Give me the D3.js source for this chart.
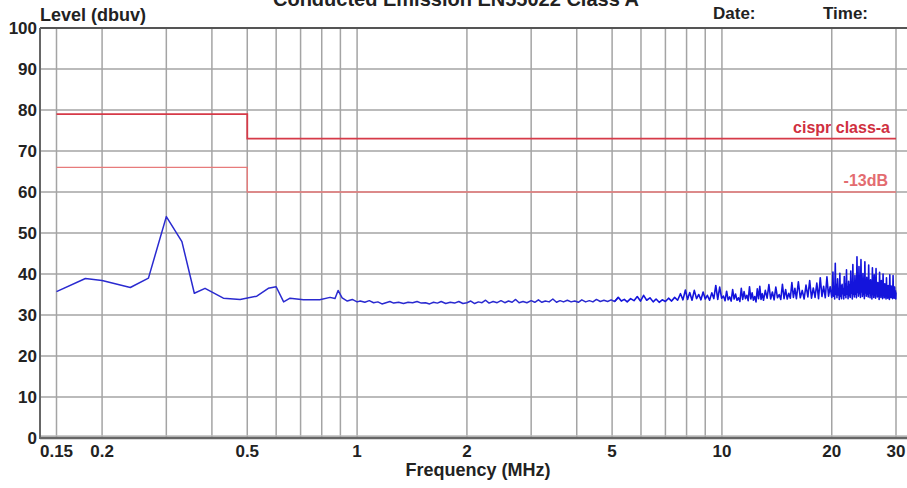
<!DOCTYPE html>
<html>
<head>
<meta charset="utf-8">
<script src="https://cdn.jsdelivr.net/npm/d3@7"></script>
<style>
html,body{margin:0;padding:0;background:#fff;}
svg{display:block;}
text{font-family:"Liberation Sans",Arial,sans-serif;font-weight:bold;fill:#222;}
</style>
</head>
<body>
<svg id="chart" width="907" height="488"></svg>
<script>
// ---------- data ----------
const title = "Conducted Emission EN55022 Class A";
const yTicks = [0,10,20,30,40,50,60,70,80,90,100];
const xGrid = [0.15,0.2,0.3,0.4,0.5,0.6,0.7,0.8,0.9,1,2,3,4,5,6,7,8,9,10,20,30];
const xTickLabels = [0.15,0.2,0.5,1,2,5,10,20,30];
const limitClassA = [[0.15,79],[0.5,79],[0.5,73],[30,73]];
const limitMinus13 = [[0.15,66],[0.5,66],[0.5,60],[30,60]];
// measured trace [MHz, dBuV]
const traceLow = [
[0.15,35.7],[0.18,38.9],[0.2,38.4],[0.239,36.7],[0.268,39.0],[0.30,54.0],[0.331,47.9],[0.358,35.3],
[0.383,36.5],[0.43,34.1],[0.478,33.8],[0.531,34.6],[0.571,36.5],[0.60,36.9],[0.629,33.2],[0.655,34.1],
[0.713,33.7],[0.79,33.7],[0.843,34.3],[0.87,34.0],[0.887,36.0],[0.91,34.2],[0.94,33.4],[0.97,33.8],[1.0,33.2]
];
const traceMid = [
[1.02,33.4],[1.05,33.1],[1.08,33.5],[1.11,33.0],[1.14,33.2],[1.17,32.7],[1.2,33.0],[1.23,33.3],[1.26,32.9],
[1.3,33.1],[1.34,32.8],[1.38,33.1],[1.42,33.0],[1.46,33.3],[1.5,32.9],[1.54,33.0],[1.58,32.7],[1.62,33.1],
[1.66,32.9],[1.7,33.3],[1.75,32.8],[1.8,33.1],[1.85,32.9],[1.9,33.3],[1.95,32.8],[2.0,33.0],[2.05,33.4],
[2.1,32.8],[2.15,33.2],[2.2,33.0],[2.25,33.6],[2.3,32.9],[2.36,33.3],[2.42,33.0],[2.48,33.5],[2.54,33.0],
[2.6,33.4],[2.66,33.1],[2.72,33.8],[2.78,33.0],[2.85,33.3],[2.92,33.0],[3.0,33.5],[3.07,33.1],[3.14,33.7],
[3.21,33.1],[3.28,33.4],[3.36,33.2],[3.44,33.9],[3.52,33.1],[3.6,33.5],[3.68,33.2],[3.77,33.6],[3.86,33.2],
[3.95,33.4],[4.04,33.1],[4.13,33.7],[4.23,33.2],[4.33,33.5],[4.43,33.2],[4.53,33.8],[4.64,33.3],[4.75,33.6],
[4.86,33.3],[4.97,33.7],[5.08,33.3]
];
const traceHigh = [
[5.2,34.3],[5.3,33.4],[5.4,33.8],[5.5,33.2],[5.62,34.0],[5.74,33.5],[5.86,34.5],[5.98,33.4],[6.1,34.8],
[6.22,33.6],[6.35,34.2],[6.48,33.2],[6.6,33.9],[6.73,33.1],[6.86,33.7],[7.0,33.3],[7.14,34.1],[7.28,33.4],
[7.42,34.3],[7.56,33.6],[7.7,35.2],[7.82,33.7],[7.94,36.1],[8.05,33.8],[8.16,35.5],[8.28,33.6],[8.4,36.0],
[8.52,34.0],[8.64,35.0],[8.76,33.7],[8.88,35.6],[9.0,33.9],[9.12,34.8],[9.25,33.6],[9.38,35.4],[9.5,34.0],
[9.62,37.2],[9.74,33.8],[9.86,36.8],[9.98,34.1],
[10.1,34.6],[10.2,33.5],[10.3,35.8],[10.4,33.7],[10.5,34.4],[10.6,33.4],[10.7,36.2],[10.8,33.9],[10.9,35.1],
[11.0,33.6],[11.1,34.2],[11.2,33.3],[11.3,36.5],[11.4,33.8],[11.5,35.7],[11.6,34.0],[11.7,34.8],[11.8,33.5],
[11.9,36.9],[12.0,33.9],[12.1,35.4],[12.2,33.6],[12.3,34.5],[12.4,33.2],[12.5,36.4],[12.6,34.0],[12.7,37.0],
[12.8,33.8],[12.9,35.2],[13.0,33.6],
[13.15,36.0],[13.3,34.1],[13.45,37.4],[13.6,33.9],[13.75,35.6],[13.9,33.7],[14.05,36.8],[14.2,34.2],
[14.35,35.0],[14.5,33.8],[14.65,37.5],[14.8,34.0],[14.95,36.2],[15.1,33.9],[15.25,35.3],[15.4,34.1],
[15.55,37.9],[15.7,34.3],[15.85,36.5],[16.0,34.0],
[16.2,38.1],[16.4,34.2],[16.6,36.0],[16.8,33.9],[17.0,37.3],[17.2,34.4],[17.4,38.4],[17.6,34.1],[17.8,36.6],
[18.0,34.3],[18.2,37.8],[18.4,34.0],[18.6,39.1],[18.8,34.5],[19.0,37.0],[19.2,34.2],[19.4,39.3],[19.6,34.6],
[19.8,36.9],[20.0,34.3]
];
const traceTop = [
[20.08,36.2],[20.15,40.5],[20.22,34.6],[20.3,36.9],[20.37,33.9],[20.45,42.6],[20.52,35.0],[20.6,37.4],
[20.67,34.2],[20.75,38.8],[20.82,34.9],[20.9,36.3],[20.97,33.8],[21.05,40.2],[21.12,34.5],[21.2,37.1],
[21.27,34.0],[21.35,37.5],[21.42,35.2],[21.5,36.4],[21.57,33.9],[21.65,39.4],[21.72,34.8],[21.8,37.6],
[21.87,34.2],[21.95,41.0],[22.02,35.1],[22.1,36.7],[22.17,34.0],[22.25,38.2],[22.32,34.7],[22.4,37.3],
[22.47,34.3],[22.55,40.7],[22.62,35.3],[22.7,36.5],[22.77,33.9],[22.85,42.3],[22.92,35.0],[23.0,38.0],
[23.07,34.4],[23.15,39.6],[23.22,35.1],[23.3,37.2],[23.37,34.2],[23.45,44.2],[23.52,35.5],[23.6,38.4],
[23.67,34.6],[23.75,41.8],[23.82,35.2],[23.9,37.5],[23.97,34.3],[24.05,43.5],[24.12,35.6],[24.2,38.1],
[24.27,34.5],[24.35,40.1],[24.42,35.0],[24.5,37.0],[24.57,34.0],[24.65,43.0],[24.72,35.4],[24.8,38.3],
[24.87,34.6],[24.95,39.2],[25.02,35.1],[25.1,37.3],[25.17,34.4],[25.25,42.2],[25.32,35.3],[25.4,37.8],
[25.47,34.2],[25.55,38.6],[25.62,34.9],[25.7,36.6],[25.77,33.9],[25.85,41.5],[25.92,35.0],[26.0,37.7],
[26.07,34.3],[26.15,39.8],[26.22,34.8],[26.3,36.9],[26.37,34.1],[26.45,41.3],[26.52,35.2],[26.6,37.5],
[26.67,34.4],[26.75,37.9],[26.82,34.6],[26.9,36.4],[26.97,33.8],[27.05,40.4],[27.12,35.0],[27.2,37.3],
[27.27,34.3],[27.35,38.4],[27.42,34.9],[27.5,36.6],[27.57,34.0],[27.65,40.0],[27.72,35.1],[27.8,37.4],
[27.87,34.2],[27.95,37.6],[28.02,34.7],[28.1,36.2],[28.17,33.9],[28.25,39.1],[28.32,34.8],[28.4,37.0],
[28.47,34.1],[28.55,37.2],[28.62,34.5],[28.7,36.1],[28.77,33.8],[28.85,39.8],[28.92,34.9],[29.0,37.1],
[29.07,34.2],[29.15,37.0],[29.22,34.6],[29.3,36.3],[29.37,34.0],[29.45,39.6],[29.52,34.8],[29.6,36.9],
[29.67,34.1],[29.75,36.8],[29.82,34.5],[29.9,35.9],[29.96,33.9],[30.0,35.5]
];

// ---------- chart ----------
const svg = d3.select("#chart");
const x = d3.scaleLog().domain([0.15, 30]).range([56.5, 896]);
const y = d3.scaleLinear().domain([0, 100]).range([438, 28]);
const left = 40, right = 907;

// horizontal grid
svg.append("g").selectAll("line").data(yTicks.filter(d => d > 0 && d < 100)).join("line")
  .attr("x1", left).attr("x2", right)
  .attr("y1", d => y(d)).attr("y2", d => y(d))
  .attr("stroke", "#a4a4a4").attr("stroke-width", 1.5);

// vertical grid
svg.append("g").selectAll("line").data(xGrid).join("line")
  .attr("x1", d => x(d)).attr("x2", d => x(d))
  .attr("y1", y(100)).attr("y2", y(0))
  .attr("stroke", "#a4a4a4").attr("stroke-width", 1.5);

// frame
svg.append("line").attr("x1", left).attr("x2", right).attr("y1", y(100)).attr("y2", y(100))
  .attr("stroke", "#555").attr("stroke-width", 2);
svg.append("line").attr("x1", left).attr("x2", right).attr("y1", y(0) - 2).attr("y2", y(0) - 2)
  .attr("stroke", "#bbb").attr("stroke-width", 1.5);
svg.append("line").attr("x1", left).attr("x2", right).attr("y1", y(0)).attr("y2", y(0))
  .attr("stroke", "#666").attr("stroke-width", 2.5);
svg.append("line").attr("x1", left).attr("x2", left).attr("y1", y(100)).attr("y2", y(0) + 1)
  .attr("stroke", "#666").attr("stroke-width", 2);

const line = d3.line().x(d => x(d[0])).y(d => y(d[1]));

// limit lines
svg.append("path").datum(limitMinus13).attr("d", line)
  .attr("fill", "none").attr("stroke", "#e77b7b").attr("stroke-width", 1.4);
svg.append("path").datum(limitClassA).attr("d", line)
  .attr("fill", "none").attr("stroke", "#d63a48").attr("stroke-width", 1.8);

// trace
const traceA = traceLow.concat(traceMid, [traceHigh[0]]);
const traceB = traceMid.slice(-1).concat(traceHigh, traceTop);
svg.append("path").datum(traceA).attr("d", line)
  .attr("fill", "none").attr("stroke", "#2a2ad0").attr("stroke-width", 1.5)
  .attr("stroke-linejoin", "round");
svg.append("path").datum(traceB).attr("d", line)
  .attr("fill", "none").attr("stroke", "#1414dc").attr("stroke-width", 1.6)
  .attr("stroke-linejoin", "round");

// limit labels
svg.append("text").attr("x", 890).attr("y", y(73) - 6).attr("text-anchor", "end")
  .style("font-size", "16px").style("fill", "#d0303f").text("cispr class-a");
svg.append("text").attr("x", 888).attr("y", y(60) - 6).attr("text-anchor", "end")
  .style("font-size", "16px").style("fill", "#e36c70").text("-13dB");

// y tick labels
svg.append("g").selectAll("text").data(yTicks).join("text")
  .attr("x", 37).attr("y", d => y(d) + 6)
  .attr("text-anchor", "end").style("font-size", "17px").text(d => d);

// x tick labels
svg.append("g").selectAll("text").data(xTickLabels).join("text")
  .attr("x", d => x(d)).attr("y", 457)
  .attr("text-anchor", "middle").style("font-size", "17px").text(d => d);

// titles
svg.append("text").attr("x", 478).attr("y", 476).attr("text-anchor", "middle")
  .style("font-size", "18px").text("Frequency (MHz)");
svg.append("text").attr("x", 40).attr("y", 21).style("font-size", "18px").text("Level (dbuv)");
svg.append("text").attr("x", 456).attr("y", 6).attr("text-anchor", "middle")
  .style("font-size", "20px").text(title);
svg.append("text").attr("x", 713).attr("y", 19).style("font-size", "17px").text("Date:");
svg.append("text").attr("x", 823).attr("y", 19).style("font-size", "17px").text("Time:");
</script>
</body>
</html>
